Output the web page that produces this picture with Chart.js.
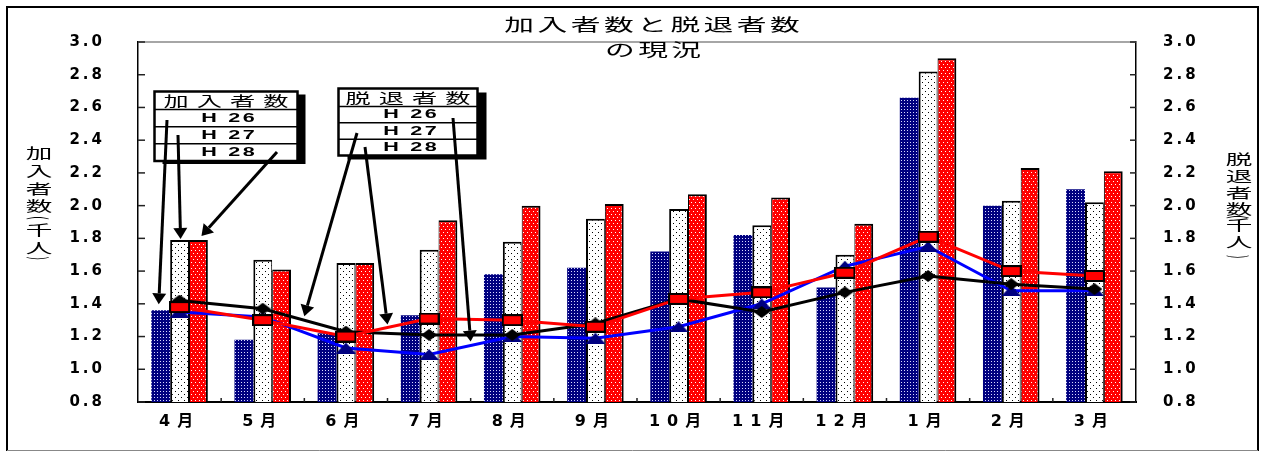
<!DOCTYPE html>
<html>
<head>
<meta charset="utf-8">
<script src="https://cdn.jsdelivr.net/npm/chart.js@4/dist/chart.umd.min.js"></script>
<style>
  html, body { margin: 0; padding: 0; background: #fff; overflow: hidden; }
  canvas { display: block; }
</style>
</head>
<body>
<canvas id="chart" width="1263" height="452"></canvas>
<script>
// months (fiscal year order)
const months = ['4月', '5月', '6月', '7月', '8月', '9月', '10月', '11月', '12月', '1月', '2月', '3月'];
const yTickLabels = ['0.8', '1.0', '1.2', '1.4', '1.6', '1.8', '2.0', '2.2', '2.4', '2.6', '2.8', '3.0'];
const yearLabels = ['H 26', 'H 27', 'H 28'];

// 加入者数 (千人) - bars
const joinH26 = [1.36, 1.18, 1.22, 1.33, 1.58, 1.62, 1.72, 1.82, 1.50, 2.66, 2.00, 2.10];
const joinH27 = [1.79, 1.67, 1.65, 1.73, 1.78, 1.92, 1.98, 1.88, 1.70, 2.82, 2.03, 2.02];
const joinH28 = [1.79, 1.61, 1.65, 1.91, 2.00, 2.01, 2.07, 2.05, 1.89, 2.90, 2.23, 2.21];

// 脱退者数 (千人) - lines
const leaveH26 = [1.35, 1.32, 1.13, 1.09, 1.20, 1.19, 1.26, 1.40, 1.63, 1.75, 1.48, 1.48];
const leaveH27 = [1.42, 1.37, 1.23, 1.21, 1.21, 1.28, 1.43, 1.35, 1.47, 1.57, 1.52, 1.49];
const leaveH28 = [1.38, 1.30, 1.20, 1.31, 1.30, 1.26, 1.43, 1.47, 1.59, 1.81, 1.60, 1.57];

const JP = '"Noto Sans CJK JP", sans-serif';
const NUM = '"DejaVu Sans", "Noto Sans CJK JP", sans-serif';

const canvas = document.getElementById('chart');
const ctx = canvas.getContext('2d');

// dotted fills like the original print patterns
function makePattern(w, h, bg, dot, dots) {
    const c = document.createElement('canvas');
    c.width = w;
    c.height = h;
    const g = c.getContext('2d');
    g.fillStyle = bg;
    g.fillRect(0, 0, w, h);
    g.fillStyle = dot;
    dots.forEach(([x, y]) => g.fillRect(x, y, 1, 1));
    return ctx.createPattern(c, 'repeat');
}

const patBlue = makePattern(3, 3, '#000080', '#d8d8ff', [[1, 1]]);
const patWhite = makePattern(6, 6, '#ffffff', '#000000', [[1, 1], [4, 4]]);
const patRed = makePattern(4, 6, '#ff0000', '#ffffff', [[1, 1], [3, 4]]);

// markers (wide shapes as in the original)
function makeMarker(w, h, drawFn) {
    const c = document.createElement('canvas');
    c.width = w;
    c.height = h;
    drawFn(c.getContext('2d'), w, h);
    return c;
}

const markTri = makeMarker(20, 11, (g, w, h) => {
    g.fillStyle = '#000080';
    g.beginPath();
    g.moveTo(w / 2, 0);
    g.lineTo(w, h);
    g.lineTo(0, h);
    g.closePath();
    g.fill();
});
const markDiamond = makeMarker(16, 12, (g, w, h) => {
    g.fillStyle = '#000';
    g.beginPath();
    g.moveTo(w / 2, 0);
    g.lineTo(w, h / 2);
    g.lineTo(w / 2, h);
    g.lineTo(0, h / 2);
    g.closePath();
    g.fill();
});
const markRect = makeMarker(21, 12, (g, w, h) => {
    g.fillStyle = '#ff0000';
    g.fillRect(0, 0, w, h);
    g.strokeStyle = '#000';
    g.lineWidth = 2;
    g.strokeRect(1, 1, w - 2, h - 2);
});

// text stretched wide like the source image
function wideText(g, text, x, y, font, sx, spacing) {
    g.save();
    g.font = font;
    g.letterSpacing = spacing + 'px';
    g.textAlign = 'left';
    g.textBaseline = 'middle';
    g.fillStyle = '#000';
    const w = g.measureText(text).width - spacing;
    g.translate(x, y);
    g.scale(sx, 1);
    g.fillText(text, -w / 2, 0);
    g.restore();
}

// stacked vertical axis title, brackets turned sideways
function drawVertTitle(g, chars, x, y0, offs) {
    g.save();
    g.font = '14px ' + JP;
    g.textAlign = 'center';
    g.textBaseline = 'middle';
    g.fillStyle = '#000';
    chars.forEach((ch, i) => {
        g.save();
        g.translate(x, y0 + offs[i]);
        if (ch === '(' || ch === ')') {
            g.rotate(Math.PI / 2);
            g.scale(0.8, 1.6);
        } else {
            g.scale(1.9, 1);
        }
        g.fillText(ch, 0, 0);
        g.restore();
    });
    g.restore();
}

function line(g, x0, y0, x1, y1) {
    g.beginPath();
    g.moveTo(x0, y0);
    g.lineTo(x1, y1);
    g.stroke();
}

function arrow(g, x0, y0, x1, y1) {
    const a = Math.atan2(y1 - y0, x1 - x0);
    const L = 11, W = 7;
    const bx = x1 - L * Math.cos(a), by = y1 - L * Math.sin(a);
    g.lineWidth = 3;
    line(g, x0, y0, bx, by);
    g.beginPath();
    g.moveTo(x1, y1);
    g.lineTo(bx + W * Math.sin(a), by - W * Math.cos(a));
    g.lineTo(bx - W * Math.sin(a), by + W * Math.cos(a));
    g.closePath();
    g.fill();
}

function legendBox(g, b, title) {
    g.save();
    g.fillStyle = '#000';
    g.fillRect(b.x + b.sx, b.y + b.sy, b.w, b.h);
    g.fillStyle = '#fff';
    g.fillRect(b.x, b.y, b.w, b.h);
    g.strokeStyle = '#000';
    g.lineWidth = 2.5;
    g.strokeRect(b.x, b.y, b.w, b.h);
    g.lineWidth = 1.5;
    const rowH = (b.h - b.head) / 3;
    for (let i = 0; i < 3; i++) {
        line(g, b.x, b.y + b.head + rowH * i, b.x + b.w, b.y + b.head + rowH * i);
    }
    const cx = b.x + b.w / 2;
    wideText(g, title, cx, b.y + b.head / 2 + 0.5, '14px ' + JP, 1.8, 4.5);
    yearLabels.forEach((t, i) => {
        wideText(g, t, cx + 2, b.y + b.head + rowH * (i + 0.5) + 0.5, 'bold 12px "Liberation Sans", sans-serif', 1.8, 1.5);
    });
    g.restore();
}

function spaceLabels(scale, px) {
    if (scale._spaced) return;
    const draw = scale.drawLabels;
    scale.drawLabels = function (area) {
        this.ctx.save();
        this.ctx.letterSpacing = px + 'px';
        draw.call(this, area);
        this.ctx.restore();
    };
    scale._spaced = true;
}

function midPoint(chart, dsIndex, i) {
    const pts = chart.getDatasetMeta(dsIndex).data;
    return { x: (pts[i].x + pts[i + 1].x) / 2, y: (pts[i].y + pts[i + 1].y) / 2 };
}

const decor = {
    id: 'decor',
    beforeDraw(chart) {
        spaceLabels(chart.scales.x, 7);
        spaceLabels(chart.scales.y, 3);
        spaceLabels(chart.scales.y2, 3);
    },
    afterDraw(chart) {
        const g = chart.ctx;
        const area = chart.chartArea;
        const ys = chart.scales.y;
        const ys2 = chart.scales.y2;

        g.save();
        // plot top edge
        g.strokeStyle = '#888';
        g.lineWidth = 1.5;
        line(g, area.left, area.top, area.right, area.top);

        // inner tick marks
        g.strokeStyle = '#222';
        g.lineWidth = 1.5;
        ys.ticks.forEach(t => {
            const py = ys.getPixelForValue(t.value);
            line(g, area.left, py, area.left + 7, py);
        });
        ys2.ticks.forEach(t => {
            const py = ys2.getPixelForValue(t.value);
            line(g, area.right - 6, py, area.right, py);
        });
        const step = (area.right - area.left) / months.length;
        for (let i = 1; i < months.length; i++) {
            const px = area.left + step * i;
            line(g, px, area.bottom, px, area.bottom - 4);
        }

        // outer frame
        g.strokeStyle = '#000';
        g.lineWidth = 2;
        g.beginPath();
        g.moveTo(7, 451);
        g.lineTo(7, 7);
        g.lineTo(1258, 7);
        g.lineTo(1258, 451);
        g.stroke();
        g.strokeStyle = '#888';
        g.lineWidth = 1;
        line(g, 7, 450.5, 1258, 450.5);

        // title
        wideText(g, '加入者数と脱退者数', 652, 25, '17px ' + JP, 1.75, 2);
        wideText(g, 'の現況', 653, 50, '17px ' + JP, 1.75, 2);

        // axis titles
        drawVertTitle(g, ['加', '入', '者', '数', '(', '千', '人', ')'], 39, 152.5,
            [0, 18.3, 35.8, 53.3, 65.5, 76.7, 95, 105.8]);
        drawVertTitle(g, ['脱', '退', '者', '数', '(', '千', '人', ')'], 1239, 159,
            [0, 16.6, 33.3, 49.3, 58, 65.5, 83, 98]);

        // legend boxes
        legendBox(g, { x: 154.5, y: 91.5, w: 143, h: 69.5, head: 18, sx: 8, sy: 3 }, '加入者数');
        legendBox(g, { x: 338.5, y: 88.5, w: 139, h: 67, head: 18, sx: 9, sy: 4 }, '脱退者数');

        // arrows to the April bars
        g.fillStyle = '#000';
        g.strokeStyle = '#000';
        const b26 = chart.getDatasetMeta(3).data[0];
        const b27 = chart.getDatasetMeta(4).data[0];
        const b28 = chart.getDatasetMeta(5).data[0];
        arrow(g, 167, 120, b26.x - 2, b26.y - 6);
        arrow(g, 178, 135, b27.x + 1, b27.y - 1);
        arrow(g, 277, 152, b28.x + 3, b28.y - 4);

        // arrows to the lines
        const p26 = midPoint(chart, 2, 3);
        const p27 = midPoint(chart, 1, 1);
        const p28 = midPoint(chart, 0, 2);
        arrow(g, 453, 118, p26.x, p26.y - 4);
        arrow(g, 357, 133, p27.x, p27.y - 4);
        arrow(g, 365, 147, p28.x, p28.y - 3);
        g.restore();
    }
};

const yMin = Number(yTickLabels[0]);
const yMax = Number(yTickLabels[yTickLabels.length - 1]);

function yScale(position, width, pad) {
    return {
        position: position,
        min: yMin,
        max: yMax,
        ticks: {
            stepSize: 0.2,
            padding: pad,
            color: '#000',
            font: { family: NUM, size: 15, weight: 'bold' },
            callback: (v, i) => yTickLabels[i]
        },
        grid: { display: false, drawTicks: false },
        border: { display: true, color: '#000', width: 1.5 },
        afterFit: (scale) => { scale.width = width; }
    };
}

const lineBase = {
    type: 'line',
    yAxisID: 'y2',
    borderWidth: 3,
    tension: 0,
    pointRadius: 6,
    pointHoverRadius: 6,
    fill: false
};

new Chart(ctx, {
    type: 'bar',
    data: {
        labels: months,
        datasets: [
            Object.assign({}, lineBase, { label: '脱退者数 H28', data: leaveH28, borderColor: '#ff0000', pointStyle: markRect, order: 0 }),
            Object.assign({}, lineBase, { label: '脱退者数 H27', data: leaveH27, borderColor: '#000000', pointStyle: markDiamond, order: 1 }),
            Object.assign({}, lineBase, { label: '脱退者数 H26', data: leaveH26, borderColor: '#0000ff', pointStyle: markTri, order: 2 }),
            {
                label: '加入者数 H26',
                data: joinH26,
                yAxisID: 'y',
                backgroundColor: patBlue,
                borderWidth: 0,
                order: 3
            },
            {
                label: '加入者数 H27',
                data: joinH27,
                yAxisID: 'y',
                backgroundColor: patWhite,
                borderColor: '#000',
                borderWidth: { top: 2, left: 2, right: 1, bottom: 0 },
                order: 4
            },
            {
                label: '加入者数 H28',
                data: joinH28,
                yAxisID: 'y',
                backgroundColor: patRed,
                borderColor: '#000',
                borderWidth: { top: 2, left: 1, right: 2, bottom: 0 },
                order: 5
            }
        ]
    },
    options: {
        responsive: false,
        animation: false,
        categoryPercentage: 0.68,
        barPercentage: 1.0,
        layout: { padding: { top: 37, left: 0, right: 0, bottom: 0 } },
        plugins: {
            legend: { display: false },
            tooltip: { enabled: false },
            title: { display: false }
        },
        scales: {
            x: {
                grid: { display: false, drawTicks: false },
                border: { display: true, color: '#000', width: 2 },
                ticks: {
                    padding: 10,
                    color: '#000',
                    autoSkip: false,
                    maxRotation: 0,
                    font: { family: NUM, size: 16, weight: 'bold' }
                },
                afterFit: (scale) => { scale.height = 50; }
            },
            y: yScale('left', 138, 33),
            y2: yScale('right', 127, 27)
        }
    },
    plugins: [decor]
});
</script>
</body>
</html>
